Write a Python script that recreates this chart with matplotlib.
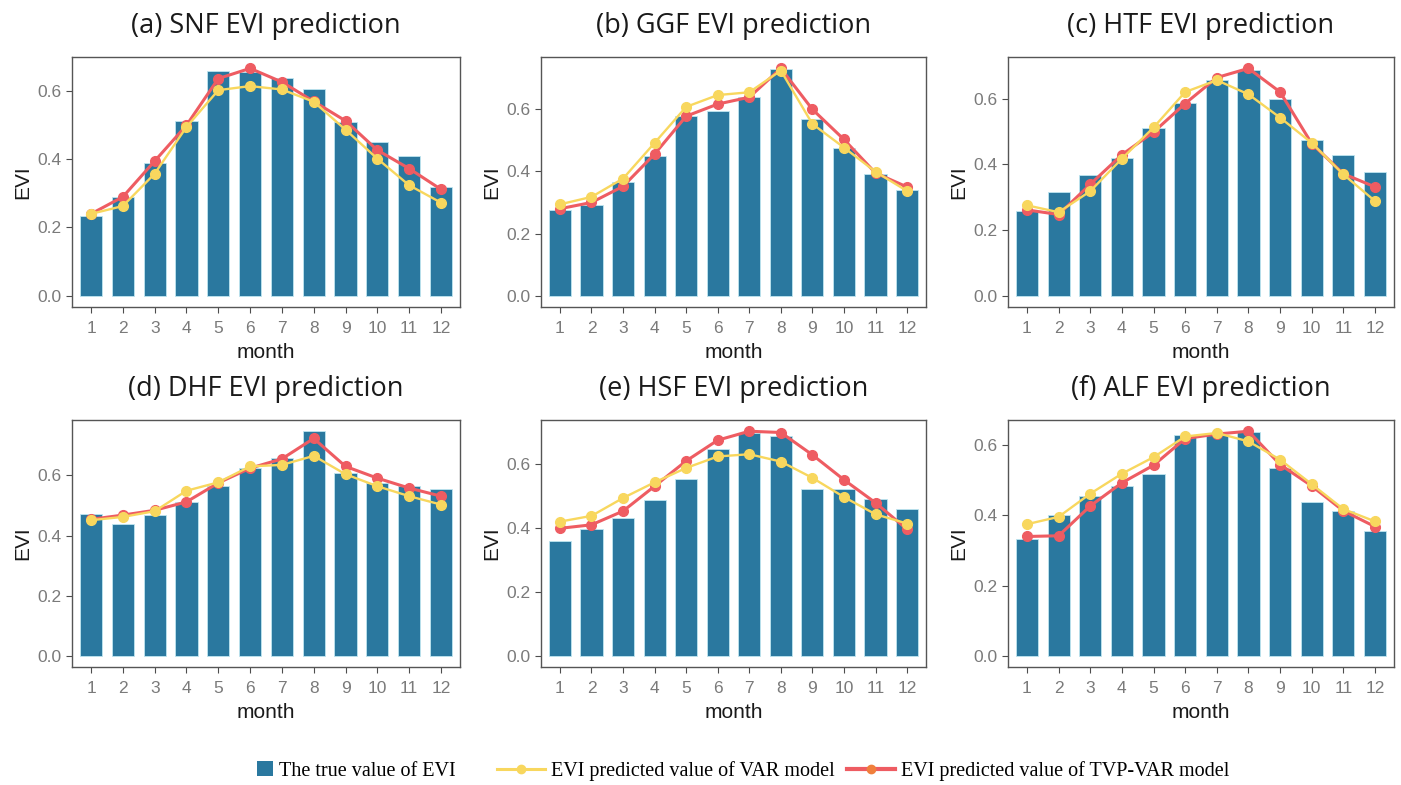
import numpy as np
import matplotlib.pyplot as plt
from matplotlib.lines import Line2D
from matplotlib.patches import Patch

months = np.arange(1, 13)

titles = ["(a) SNF EVI prediction", "(b) GGF EVI prediction", "(c) HTF EVI prediction",
          "(d) DHF EVI prediction", "(e) HSF EVI prediction", "(f) ALF EVI prediction"]

# true EVI (bars)
true_snf = [0.235, 0.289, 0.390, 0.513, 0.659, 0.657, 0.640, 0.605, 0.510, 0.450, 0.410, 0.320]
true_ggf = [0.277, 0.291, 0.365, 0.449, 0.578, 0.596, 0.641, 0.729, 0.569, 0.474, 0.391, 0.339]
true_htf = [0.257, 0.315, 0.368, 0.420, 0.509, 0.588, 0.658, 0.687, 0.600, 0.473, 0.427, 0.376]
true_dhf = [0.470, 0.437, 0.468, 0.512, 0.564, 0.624, 0.657, 0.747, 0.608, 0.575, 0.564, 0.556]
true_hsf = [0.360, 0.396, 0.432, 0.488, 0.554, 0.647, 0.699, 0.689, 0.523, 0.523, 0.492, 0.458]
true_alf = [0.333, 0.402, 0.456, 0.484, 0.517, 0.630, 0.630, 0.637, 0.536, 0.437, 0.413, 0.357]

# VAR model predictions
var_snf = [0.240, 0.263, 0.358, 0.495, 0.603, 0.615, 0.605, 0.569, 0.487, 0.402, 0.324, 0.273]
var_ggf = [0.294, 0.318, 0.377, 0.492, 0.608, 0.646, 0.655, 0.725, 0.553, 0.477, 0.399, 0.337]
var_htf = [0.275, 0.254, 0.318, 0.417, 0.512, 0.620, 0.656, 0.613, 0.542, 0.465, 0.369, 0.288]
var_dhf = [0.451, 0.462, 0.481, 0.549, 0.577, 0.630, 0.635, 0.665, 0.604, 0.564, 0.531, 0.503]
var_hsf = [0.420, 0.438, 0.494, 0.543, 0.588, 0.624, 0.631, 0.608, 0.557, 0.497, 0.443, 0.414]
var_alf = [0.375, 0.396, 0.462, 0.519, 0.566, 0.625, 0.635, 0.611, 0.559, 0.489, 0.418, 0.383]

# TVP-VAR model predictions
tvp_snf = [0.240, 0.290, 0.395, 0.500, 0.637, 0.667, 0.627, 0.570, 0.513, 0.427, 0.373, 0.312]
tvp_ggf = [0.280, 0.300, 0.352, 0.456, 0.578, 0.617, 0.639, 0.732, 0.600, 0.503, 0.395, 0.350]
tvp_htf = [0.261, 0.247, 0.339, 0.429, 0.498, 0.585, 0.664, 0.692, 0.620, 0.463, 0.371, 0.331]
tvp_dhf = [0.454, 0.468, 0.484, 0.512, 0.575, 0.624, 0.655, 0.723, 0.630, 0.591, 0.558, 0.531]
tvp_hsf = [0.399, 0.410, 0.453, 0.531, 0.610, 0.675, 0.703, 0.699, 0.629, 0.551, 0.479, 0.396]
tvp_alf = [0.340, 0.342, 0.427, 0.493, 0.543, 0.619, 0.632, 0.640, 0.545, 0.484, 0.413, 0.368]

trues = [true_snf, true_ggf, true_htf, true_dhf, true_hsf, true_alf]
vars_ = [var_snf, var_ggf, var_htf, var_dhf, var_hsf, var_alf]
tvps = [tvp_snf, tvp_ggf, tvp_htf, tvp_dhf, tvp_hsf, tvp_alf]

bar_col = "#2a789f"
var_col = "#f8d75e"
tvp_col = "#ee5c62"
W, H = 1401, 785

fig = plt.figure(figsize=(W / 100, H / 100), dpi=100)

# panel boxes in pixels: (left, right) and (top, bottom)
cols = [(72, 460), (541, 926), (1008, 1394)]
rows = [(57, 307), (420, 667)]

for i in range(6):
    r, c = divmod(i, 3)
    x0, x1 = cols[c]
    y0, y1 = rows[r]
    ax = fig.add_axes([x0 / W, 1 - y1 / H, (x1 - x0) / W, (y1 - y0) / H])
    ax.bar(months, trues[i], width=0.7, color=bar_col, edgecolor="#bfe6f0", linewidth=0.6, zorder=1)
    ax.plot(months, tvps[i], color=tvp_col, lw=2.2, marker="o", ms=7, zorder=3)
    ax.plot(months, vars_[i], color=var_col, lw=1.7, marker="o", ms=7, zorder=4)
    top = max(max(trues[i]), max(vars_[i]), max(tvps[i]))
    ax.set_ylim(-0.05 * top, 1.05 * top)
    ax.set_xlim(0.4, 12.6)
    ax.set_xticks(months)
    ax.set_yticks([0, 0.2, 0.4, 0.6])
    ax.set_yticklabels(["0.0", "0.2", "0.4", "0.6"])
    ax.tick_params(colors="#4d4d4d", labelcolor="#7a7a7a", labelsize=12.5, length=4, width=0.8)
    ax.tick_params(axis="x", pad=6)
    for lab in ax.get_xticklabels() + ax.get_yticklabels():
        lab.set_family("Liberation Sans")
    for sp in ax.spines.values():
        sp.set_color("#555555")
        sp.set_linewidth(1.0)
    ax.set_xlabel("month", fontsize=15, family="Liberation Sans", labelpad=5, color="#1a1a1a")
    ax.set_ylabel("EVI", fontsize=15, family="Liberation Sans", labelpad=4, color="#1a1a1a")
    ax.set_title(titles[i], fontsize=19.5, family="Open Sans", pad=17, color="#1a1a1a")

# legend items placed one by one so each handle can have its own length
items = [
    (Patch(facecolor=bar_col, edgecolor="none"), "The true value of EVI", 257, 0.8),
    (Line2D([], [], color=var_col, lw=2.2, marker="o", ms=6), "EVI predicted value of VAR model", 497, 2.4),
    (Line2D([], [], color=tvp_col, lw=3, marker="o", ms=6, markerfacecolor="#f07f3c",
            markeredgecolor="#f07f3c"), "EVI predicted value of TVP-VAR model", 847, 2.4),
]
for h, lab, xp, hl in items:
    fig.legend([h], [lab], loc="center left", bbox_to_anchor=(xp / W, 1 - 771 / H), frameon=False,
               prop={"family": "Liberation Serif", "size": 14.5}, handlelength=hl, handleheight=0.7,
               handletextpad=0.3, borderpad=0, borderaxespad=0)

fig.savefig("out.png", dpi=100)
